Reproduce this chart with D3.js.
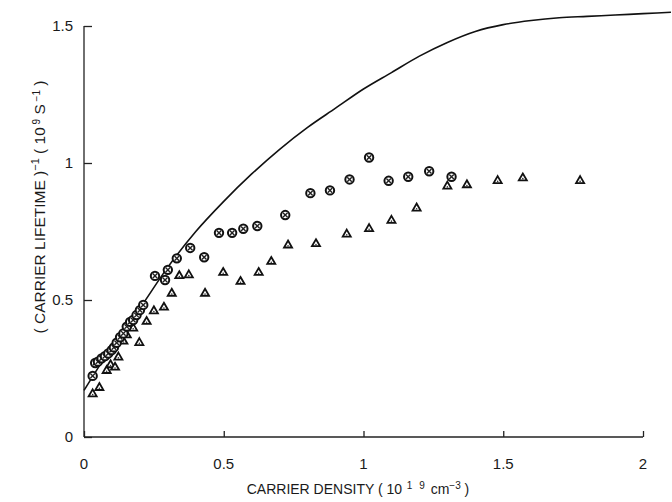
<!DOCTYPE html>
<html>
<head>
<meta charset="utf-8">
<script src="https://cdn.jsdelivr.net/npm/d3@7"></script>
<style>
  body { margin: 0; background: #fff; }
  text { font-family: "Liberation Sans", Arial, sans-serif; fill: #1a1a1a; }
</style>
</head>
<body>
<script>
// carrier density (1e19 cm^-3) vs inverse lifetime (1e9 s^-1)
var xTicks = [0, 0.5, 1, 1.5, 2];
var yTicks = [0, 0.5, 1, 1.5];
var xTickLabels = ["0", "0.5", "1", "1.5", "2"];
var yTickLabels = ["0", "0.5", "1", "1.5"];

var theoryX = [0, 0.1, 0.2, 0.3, 0.4, 0.5, 0.6, 0.7, 0.8, 0.9, 1.0, 1.1, 1.2, 1.3, 1.4, 1.5, 1.6, 1.7, 1.8, 1.9, 2.0, 2.1];
var theoryY = [0.17, 0.33, 0.47, 0.62, 0.75, 0.86, 0.96, 1.05, 1.13, 1.20, 1.27, 1.33, 1.39, 1.44, 1.48, 1.505, 1.52, 1.53, 1.535, 1.54, 1.545, 1.55];

var circX = [0.031, 0.040, 0.050, 0.063, 0.075, 0.087, 0.099, 0.107, 0.117, 0.129, 0.141, 0.153, 0.165, 0.176, 0.188, 0.2, 0.212, 0.254, 0.29, 0.3, 0.332, 0.38, 0.43, 0.483, 0.53, 0.57, 0.62, 0.72, 0.81, 0.88, 0.95, 1.02, 1.09, 1.16, 1.235, 1.315];
var circY = [0.223, 0.27, 0.275, 0.287, 0.295, 0.305, 0.317, 0.327, 0.344, 0.364, 0.378, 0.403, 0.42, 0.427, 0.445, 0.463, 0.482, 0.588, 0.573, 0.61, 0.652, 0.69, 0.656, 0.745, 0.745, 0.76, 0.77, 0.81, 0.89, 0.90, 0.94, 1.02, 0.935, 0.95, 0.97, 0.95];

var triX = [0.031, 0.055, 0.081, 0.095, 0.111, 0.123, 0.141, 0.153, 0.176, 0.198, 0.224, 0.25, 0.286, 0.314, 0.341, 0.375, 0.433, 0.498, 0.56, 0.625, 0.67, 0.73, 0.83, 0.94, 1.02, 1.10, 1.19, 1.30, 1.37, 1.48, 1.57, 1.775];
var triY = [0.157, 0.18, 0.242, 0.263, 0.254, 0.291, 0.349, 0.372, 0.397, 0.344, 0.421, 0.46, 0.473, 0.524, 0.588, 0.591, 0.524, 0.60, 0.567, 0.60, 0.64, 0.70, 0.705, 0.74, 0.76, 0.79, 0.835, 0.915, 0.92, 0.935, 0.945, 0.935];

var W = 672, H = 502;
var svg = d3.select("body").append("svg").attr("width", W).attr("height", H);

var x = d3.scaleLinear().domain([0, 2]).range([84, 643]);
var y = d3.scaleLinear().domain([0, 1.5]).range([437, 26]);

// axes: ticks point inward
var xAxis = d3.axisTop(x).tickValues(xTicks).tickSize(6).tickFormat("");
svg.append("g").attr("transform", "translate(0," + y(0) + ")").call(xAxis)
  .call(function(g){ g.select(".domain").attr("d", "M" + x(0) + ",0H" + x(2)); });
var yAxis = d3.axisRight(y).tickValues(yTicks).tickSize(8).tickFormat("");
svg.append("g").attr("transform", "translate(" + x(0) + ",0)").call(yAxis)
  .call(function(g){ g.select(".domain").attr("d", "M0," + y(0) + "V" + y(1.5)); });
svg.selectAll(".domain, .tick line").attr("stroke", "#222").attr("stroke-width", 1.3);

svg.selectAll("text.xt").data(xTicks).enter().append("text")
  .attr("class", "xt").attr("x", function(d){ return x(d); }).attr("y", 469)
  .attr("text-anchor", "middle").attr("font-size", 15)
  .text(function(d,i){ return xTickLabels[i]; });
svg.selectAll("text.yt").data(yTicks).enter().append("text")
  .attr("class", "yt").attr("x", 73).attr("y", function(d){ return y(d) + 5; })
  .attr("text-anchor", "end").attr("font-size", 15)
  .text(function(d,i){ return yTickLabels[i]; });

// axis titles
var xl = svg.append("text").attr("x", 358).attr("y", 494).attr("text-anchor", "middle").attr("font-size", 14);
xl.append("tspan").text("CARRIER DENSITY ( 10");
xl.append("tspan").attr("baseline-shift", "super").attr("font-size", 10).attr("letter-spacing", 2).text(" 1 9");
xl.append("tspan").text(" cm");
xl.append("tspan").attr("baseline-shift", "super").attr("font-size", 10).text("\u22123");
xl.append("tspan").text(" )");

var yl = svg.append("text").attr("transform", "translate(45,207) rotate(-90)")
  .attr("text-anchor", "middle").attr("font-size", 15.5);
yl.append("tspan").text("( CARRIER LIFETIME )");
yl.append("tspan").attr("baseline-shift", "super").attr("font-size", 11).text("\u22121");
yl.append("tspan").text("   ( 10");
yl.append("tspan").attr("baseline-shift", "super").attr("font-size", 10).text(" 9");
yl.append("tspan").text("  S");
yl.append("tspan").attr("baseline-shift", "super").attr("font-size", 10).text(" \u22121");
yl.append("tspan").text("   )");

// theory curve
var line = d3.line()
  .x(function(d){ return x(d[0]); })
  .y(function(d){ return y(d[1]); })
  .curve(d3.curveMonotoneX);
svg.append("path")
  .attr("d", line(d3.zip(theoryX, theoryY)))
  .attr("fill", "none").attr("stroke", "#111").attr("stroke-width", 1.6);

// triangles
var tri = d3.symbol().type(d3.symbolTriangle).size(28);
var tg = svg.selectAll("g.tri").data(d3.zip(triX, triY)).enter().append("g")
  .attr("class", "tri")
  .attr("transform", function(d){ return "translate(" + x(d[0]) + "," + y(d[1]) + ")"; });
tg.append("path").attr("d", tri).attr("fill", "#fff").attr("stroke", "#111").attr("stroke-width", 1.8);
tg.append("circle").attr("cx", 0).attr("cy", 0.6).attr("r", 0.8).attr("fill", "#333");

// circles with cross
var cg = svg.selectAll("g.circ").data(d3.zip(circX, circY)).enter().append("g")
  .attr("class", "circ")
  .attr("transform", function(d){ return "translate(" + x(d[0]) + "," + y(d[1]) + ")"; });
cg.append("circle").attr("r", 4.2).attr("fill", "#fff").attr("stroke", "#111").attr("stroke-width", 2);
cg.append("path").attr("d", "M-2.3,-2.3L2.3,2.3M-2.3,2.3L2.3,-2.3")
  .attr("stroke", "#222").attr("stroke-width", 1.4);
</script>
</body>
</html>
